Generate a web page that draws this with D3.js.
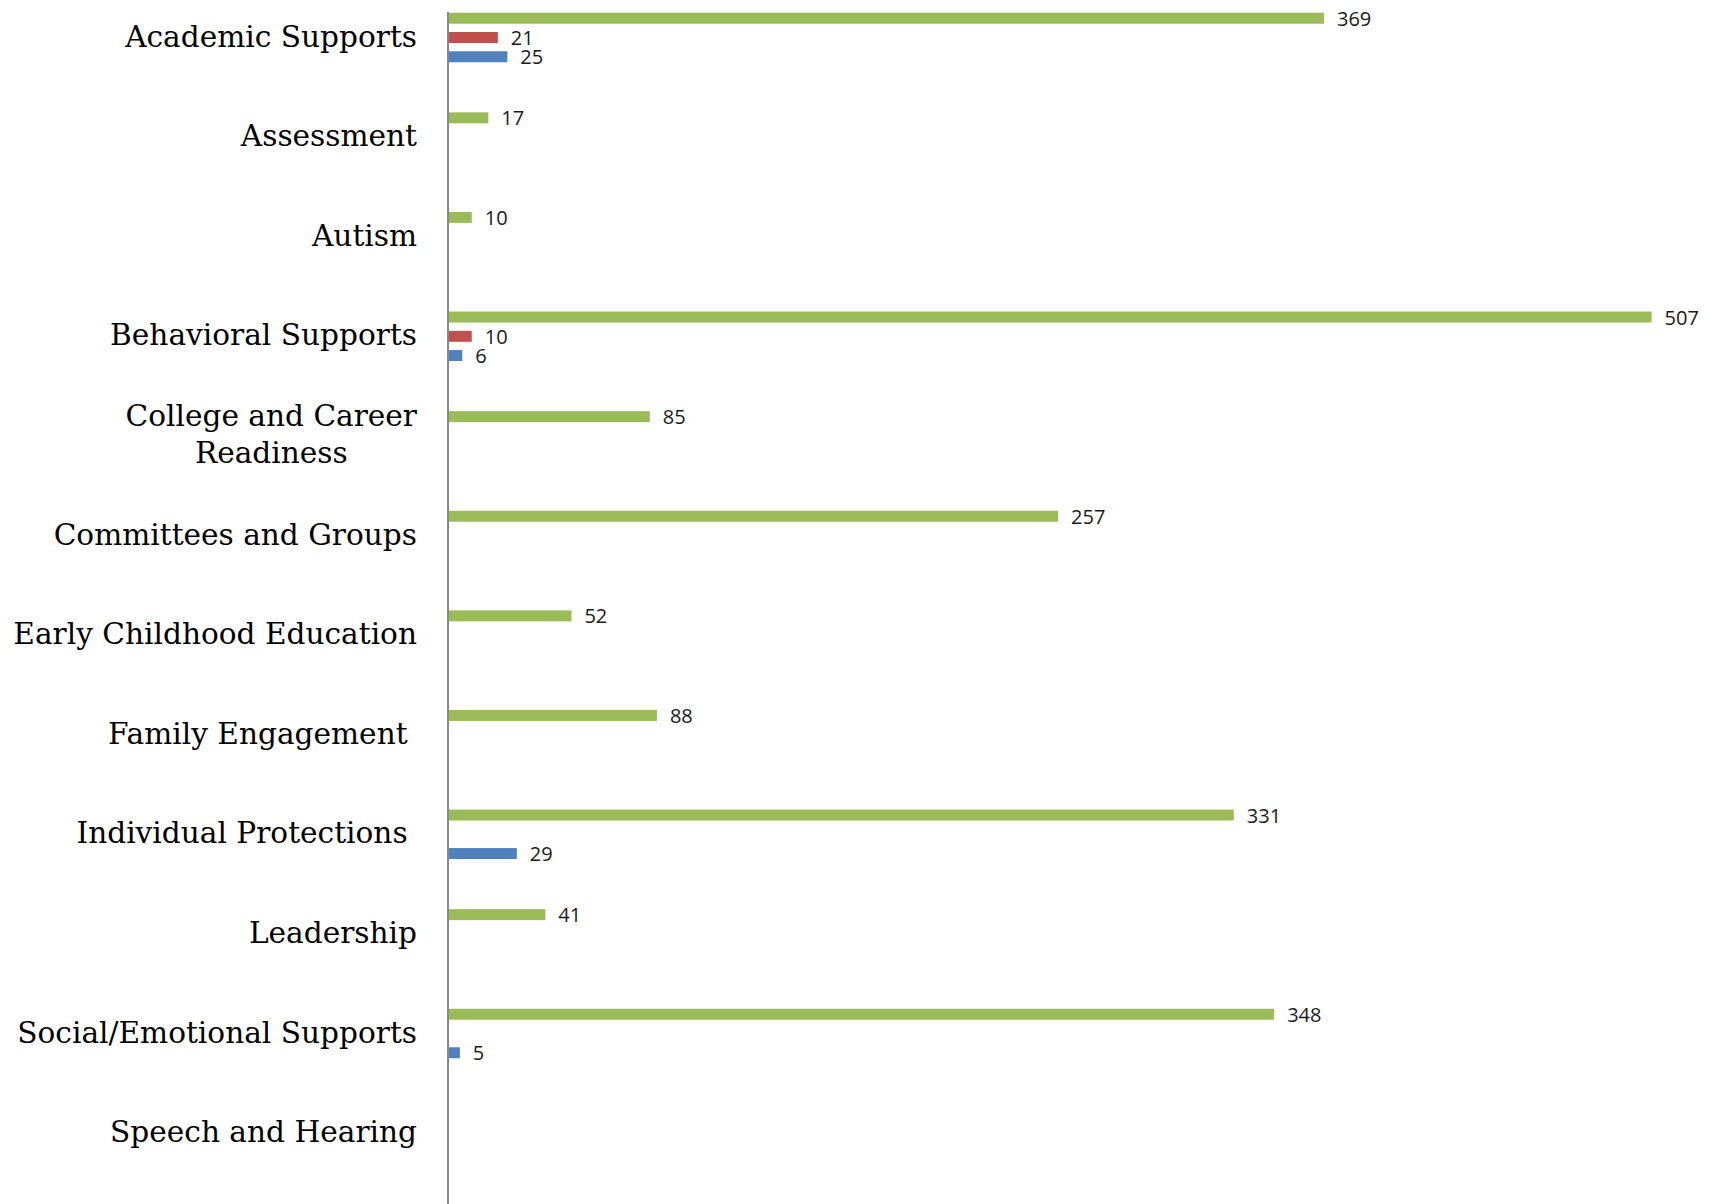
<!DOCTYPE html>
<html>
<head>
<meta charset="utf-8">
<script src="https://cdn.jsdelivr.net/npm/d3@7"></script>
<style>
  body { margin: 0; background: #fff; }
  svg { display: block; }
</style>
</head>
<body>
<svg width="1710" height="1204"></svg>
<script>
var svg = d3.select('svg'),
  width = +svg.attr('width'),
  height = +svg.attr('height');

// categories top to bottom
var categories = [
  'Academic Supports',
  'Assessment',
  'Autism',
  'Behavioral Supports',
  'College and Career Readiness',
  'Committees and Groups',
  'Early Childhood Education',
  'Family Engagement ',
  'Individual Protections ',
  'Leadership',
  'Social/Emotional Supports',
  'Speech and Hearing'
];

// label lines (only the long one wraps)
var labelLines = {
  'College and Career Readiness': ['College and Career', 'Readiness']
};

var seriesNames = ['green', 'red', 'blue'];
var seriesColors = ['#9bbb59', '#c0504d', '#4f81bd'];

var greenValues = [369, 17, 10, 507, 85, 257, 52, 88, 331, 41, 348, null];
var redValues = [21, null, null, 10, null, null, null, null, null, null, null, null];
var blueValues = [25, null, null, 6, null, null, null, null, 29, null, 5, null];

var allValues = [greenValues, redValues, blueValues];

var axisX = 448;
var step = 99.6;
var firstCenter = 37.5;

var x = d3.scaleLinear()
  .domain([0, 507])
  .range([axisX, axisX + 507 * 2.374]);

var y = d3.scaleBand()
  .domain(categories)
  .range([firstCenter - step / 2, firstCenter - step / 2 + step * categories.length])
  .paddingInner(0.42)
  .paddingOuter(0.21);

var ySub = d3.scaleBand()
  .domain(seriesNames)
  .range([0, y.bandwidth()])
  .paddingInner(0.43)
  .paddingOuter(0.215);

// flatten into one list of bars
var bars = [];
categories.forEach(function(c, i) {
  seriesNames.forEach(function(s, j) {
    var v = allValues[j][i];
    if (v != null) {
      bars.push({ cat: c, series: s, color: seriesColors[j], value: v });
    }
  });
});

svg.append('g')
  .attr('class', 'bars')
  .selectAll('rect')
  .data(bars)
  .enter()
  .append('rect')
  .attr('x', x(0))
  .attr('y', function(d) { return y(d.cat) + ySub(d.series); })
  .attr('width', function(d) { return x(d.value) - x(0); })
  .attr('height', ySub.bandwidth())
  .attr('fill', function(d) { return d.color; });

svg.append('g')
  .attr('class', 'values')
  .selectAll('text')
  .data(bars)
  .enter()
  .append('text')
  .attr('x', function(d) { return x(d.value) + 13; })
  .attr('y', function(d) { return y(d.cat) + ySub(d.series) + ySub.bandwidth() / 2 + 7.5; })
  .attr('font-family', 'Open Sans, Noto Sans, sans-serif')
  .attr('font-size', 20)
  .attr('fill', '#1a1a1a')
  .text(function(d) { return d.value; });

// category axis line
svg.append('line')
  .attr('x1', axisX)
  .attr('x2', axisX)
  .attr('y1', 12)
  .attr('y2', height)
  .attr('stroke', '#888')
  .attr('stroke-width', 2);

// category labels, right aligned against the axis
var labelRight = 417;
var labels = svg.append('g')
  .attr('class', 'labels')
  .attr('font-family', 'DejaVu Serif, serif')
  .attr('font-size', 29.6)
  .attr('fill', '#000');

categories.forEach(function(c) {
  var cy = y(c) + y.bandwidth() / 2;
  var lines = labelLines[c];
  if (!lines) {
    labels.append('text')
      .attr('x', labelRight)
      .attr('y', cy + 9)
      .attr('text-anchor', 'end')
      .text(c.replace(/ $/, '\u00a0'));
  } else {
    // multi-line: lines centered on each other, block right aligned
    var g = labels.append('g');
    var t = g.selectAll('text')
      .data(lines)
      .enter()
      .append('text')
      .attr('y', function(d, k) { return cy + 9 + (k - (lines.length - 1) / 2) * 37; })
      .attr('text-anchor', 'middle')
      .text(function(d) { return d; });
    var maxW = d3.max(t.nodes(), function(n) { return n.getComputedTextLength(); });
    t.attr('x', labelRight - maxW / 2);
  }
});
</script>
</body>
</html>
